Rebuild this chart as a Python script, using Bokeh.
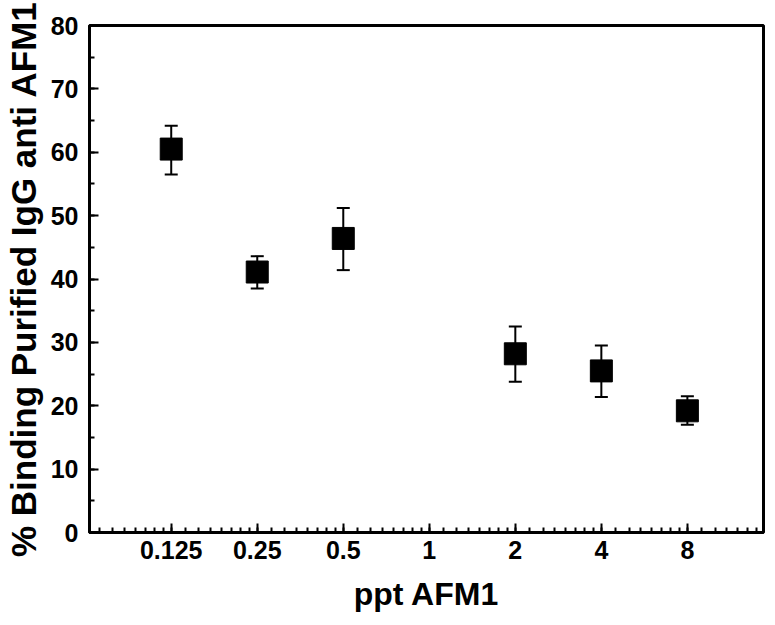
from bokeh.plotting import figure
from bokeh.models import ColumnDataSource, Whisker, TeeHead, LogTicker, SingleIntervalTicker, Range1d
from bokeh.embed import file_html
from bokeh.resources import INLINE

# data
conc = [0.125, 0.25, 0.5, 2, 4, 8]
binding = [60.5, 41.1, 46.4, 28.2, 25.5, 19.2]
err_upper = [64.2, 43.6, 51.2, 32.5, 29.5, 21.5]
err_lower = [56.5, 38.5, 41.4, 23.8, 21.4, 17.0]

x_ticks = [0.125, 0.25, 0.5, 1, 2, 4, 8]
x_tick_labels = ["0.125", "0.25", "0.5", "1", "2", "4", "8"]

FONT = "Liberation Sans"

source = ColumnDataSource(dict(x=conc, y=binding, upper=err_upper, lower=err_lower))

p = figure(width=765, height=614, output_backend="svg", toolbar_location=None,
           x_axis_type="log",
           x_range=Range1d(2 ** -3.95, 2 ** 3.885), y_range=Range1d(0, 80),
           min_border_top=25, min_border_right=2, min_border_left=84, min_border_bottom=0)

p.grid.visible = False
p.background_fill_color = "white"
p.border_fill_color = "white"
p.outline_line_color = "black"
p.outline_line_width = 3

# x axis
xa = p.xaxis[0]
xa.ticker = LogTicker(base=2, mantissas=[1], num_minor_ticks=16)
xa.major_label_overrides = {t: l for t, l in zip(x_ticks, x_tick_labels)}
xa.axis_label = "ppt AFM1"
# y axis
ya = p.yaxis[0]
ya.ticker = SingleIntervalTicker(interval=10, num_minor_ticks=2)
ya.axis_label = "% Binding Purified IgG anti AFM1"

for ax in (xa, ya):
    ax.axis_line_width = 3
    ax.axis_line_color = "black"
    ax.major_tick_in = 9
    ax.major_tick_out = 0
    ax.minor_tick_in = 5
    ax.minor_tick_out = 0
    ax.major_tick_line_width = 2
    ax.minor_tick_line_width = 2
    ax.major_tick_line_color = "black"
    ax.minor_tick_line_color = "black"
    ax.major_label_text_font = FONT
    ax.major_label_text_font_style = "bold"
    ax.major_label_text_color = "black"
    ax.axis_label_text_font = FONT
    ax.axis_label_text_font_style = "bold"
    ax.axis_label_text_color = "black"

xa.major_label_text_font_size = "25px"
xa.major_label_standoff = 8
xa.axis_label_text_font_size = "32px"
xa.axis_label_standoff = 14

ya.major_label_text_font_size = "25px"
ya.major_label_standoff = 11
ya.axis_label_text_font_size = "35px"
ya.axis_label_standoff = 5

whisk = Whisker(base="x", upper="upper", lower="lower", source=source,
                line_color="black", line_width=2,
                upper_head=TeeHead(size=13, line_color="black", line_width=2),
                lower_head=TeeHead(size=13, line_color="black", line_width=2))
p.add_layout(whisk)

p.scatter("x", "y", source=source, marker="square", size=22,
          fill_color="black", line_color="black")

open("out.html", "w").write(file_html(p, INLINE))
